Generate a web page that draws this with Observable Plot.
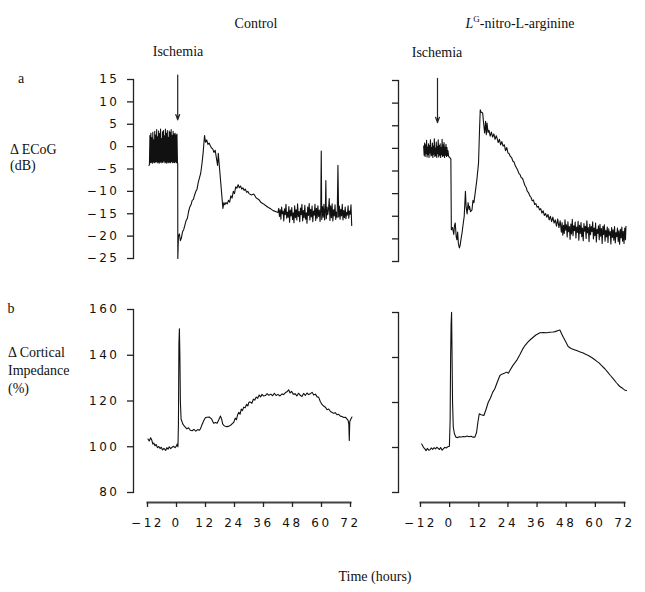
<!DOCTYPE html>
<html><head><meta charset="utf-8">
<script src="https://cdn.jsdelivr.net/npm/d3@7"></script>
<script src="https://cdn.jsdelivr.net/npm/@observablehq/plot@0.6"></script>
<style>
body{margin:0;background:#fff;}
#root{position:relative;width:645px;height:592px;overflow:hidden;background:#fff;}
.lbl{position:absolute;font-family:"Liberation Serif","Times New Roman",serif;font-size:14px;color:#111;white-space:nowrap;line-height:1;}
.c{transform:translate(-50%,-50%);}
.l{transform:translate(0,-50%);}
.p{position:absolute;}
.p svg text{letter-spacing:2.5px;}
</style></head><body><div id="root"></div>
<script>
// ---- tick labels / categories ----
const xTicks = [-12, 0, 12, 24, 36, 48, 60, 72];
const ecogTicks = [15, 10, 5, 0, -5, -10, -15, -20, -25];
const impTicks = [160, 140, 120, 100, 80];
const panelTitles = ["Control", "LG-nitro-L-arginine"];

// ---- ischemia arrows (hours, dB from -> to) ----
const arrowControl = [{t: 0.5, from: 16, to: 6}];
const arrowLNA = [{t: -5, from: 15.5, to: 5.7}];

// ---- series: [hours, value] ----
const ecogControl = [
[-11.4,-4.2],[-11.2,-4.0],[-11.0,2.5],[-10.8,-3.6],[-10.6,3.0],[-10.4,-3.5],[-10.2,2.0],[-10.0,-3.7],[-9.8,3.2],[-9.6,-3.4],[-9.4,1.5],[-9.2,-3.6],[-9.0,3.4],[-8.8,-3.5],[-8.6,2.6],[-8.4,-3.3],[-8.2,3.8],[-8.0,-3.6],[-7.8,2.2],[-7.6,-3.4],[-7.4,3.5],[-7.2,-3.7],[-7.0,2.9],[-6.8,-3.5],[-6.6,3.9],[-6.4,-3.4],[-6.2,1.8],[-6.0,-3.6],[-5.8,3.3],[-5.6,-3.5],[-5.4,3.6],[-5.2,-3.2],[-5.0,2.4],[-4.8,-3.6],[-4.6,3.9],[-4.4,-3.5],[-4.2,3.0],[-4.0,-3.7],[-3.8,3.6],[-3.6,-3.4],[-3.4,2.1],[-3.2,-3.6],[-3.0,3.5],[-2.8,-3.5],[-2.6,3.2],[-2.4,-3.6],[-2.2,3.8],[-2.0,-3.3],[-1.8,2.5],[-1.6,-3.6],[-1.4,3.4],[-1.2,-3.5],[-1.0,2.8],[-0.8,-3.6],[-0.6,3.0],[-0.4,-3.4],[-0.2,2.6],[0.0,-3.6],[0.2,2.8],[0.4,-3.6],
[0.5,-3.7],[0.55,-25],[0.8,-20],[1.2,-19.5],[1.6,-21],[2.0,-20.5],[2.5,-19],[3.0,-18.5],[3.5,-17.5],[4.0,-16.5],[4.5,-16],[5.0,-14.5],[5.5,-13.5],[6.0,-13],[6.5,-12],[7.0,-11.8],[7.5,-10.8],[8.0,-10],[8.5,-9.5],[9.0,-8],[9.5,-7],[10.0,-6],[10.5,-4],[11.0,-1.5],[11.6,2.5],[12.0,1],[12.5,1.5],[13,0.5],[13.5,0.8],[14,0.2],[14.5,-0.3],[15,-0.5],[15.5,-1.3],[16,-0.8],[16.5,-2.5],[17,-4.2],[17.3,-1.5],[17.6,-3.5],
[19.2,-13.8],[19.6,-12.5],[20,-13],[20.5,-12.5],[21,-12.8],[21.5,-12],[22,-12.4],[22.5,-11],[23,-11.5],[23.5,-10],[24,-10.5],[24.5,-9],[25,-9.3],[25.5,-8.5],[26,-9.2],[26.5,-8.8],[27,-9.5],[27.5,-9.2],[28,-9.8],[28.5,-9.5],[29,-10.2],[29.5,-10],[30,-10.5],[31,-10.8],[32,-10.6],[33,-11.5],[34,-11.8],[35,-12.5],[36,-12.8],[37,-13.2],[38,-13.6],[39,-13.9],[40,-14.3],[41,-14.5],[42,-14.7],
[42.3,-13.8],[42.6,-15.6],[42.9,-14.1],[43.2,-16.2],[43.5,-13.5],[43.8,-15],[44.1,-14.4],[44.4,-16.6],[44.7,-13.9],[45,-15.2],[45.3,-12.9],[45.6,-16],[45.9,-14.6],[46.2,-15.8],[46.5,-13.4],[46.8,-16.9],[47.1,-14.2],[47.4,-15.5],[47.7,-13.6],[48,-16.3],[48.3,-14.8],[48.6,-17],[48.9,-13.2],[49.2,-15.9],[49.5,-14.1],[49.8,-16.4],[50.1,-12.8],[50.4,-15.6],[50.7,-14.5],[51,-16.8],[51.3,-13.7],[51.6,-15.2],[51.9,-12.9],[52.2,-16.6],[52.5,-14.3],[52.8,-15.9],[53.1,-13.1],[53.4,-16.2],[53.7,-14.8],[54,-17.1],[54.3,-13.5],[54.6,-15.4],[54.9,-12.7],[55.2,-16.4],[55.5,-14],[55.8,-15.7],[56.1,-13.3],[56.4,-16.8],[56.7,-14.4],[57,-15.3],[57.3,-12.9],[57.6,-16.5],[57.9,-13.8],[58.2,-16],[58.5,-13.2],[58.8,-15.6],[59.1,-14.2],[59.4,-16.7],[59.7,-13.6],[59.9,-1],[60.1,-16.3],[60.4,-13.4],[60.7,-15.8],[61,-12.9],[61.3,-16.4],[61.6,-13.8],[61.8,-7.6],[62,-16.1],[62.3,-13.5],[62.6,-15.2],[62.9,-14],[63.2,-11.6],[63.5,-16.5],[63.8,-13.2],[64.1,-15.9],[64.4,-12.8],[64.7,-16.6],[65,-14.1],[65.3,-15.5],[65.6,-13],[65.9,-16.3],[66.2,-14.6],[66.5,-15.8],[66.8,-4.2],[67.1,-15.7],[67.4,-13.3],[67.7,-16.2],[68,-14],[68.3,-15.5],[68.6,-12.9],[68.9,-16.4],[69.2,-14.3],[69.5,-15.9],[69.8,-13.5],[70.1,-16.1],[70.4,-14.7],[70.7,-15.3],[71,-13.2],[71.3,-16],[71.6,-14.4],[71.9,-15.1],[72.2,-13],[72.5,-17.6]
];

const ecogLNA = [
[-10.7,0.5],[-10.5,-1.5],[-10.3,1.2],[-10.1,-1.8],[-9.9,0.8],[-9.7,-1.2],[-9.5,1.8],[-9.3,-1.9],[-9.1,0.3],[-8.9,-1.4],[-8.7,1.0],[-8.5,-2.0],[-8.3,0.6],[-8.1,-1.0],[-7.9,1.9],[-7.7,-1.7],[-7.5,0.2],[-7.3,-1.5],[-7.1,1.2],[-6.9,-2.0],[-6.7,0.5],[-6.5,-1.3],[-6.3,2.1],[-6.1,-1.8],[-5.9,0.0],[-5.7,-1.6],[-5.5,1.4],[-5.3,-2.0],[-5.1,0.4],[-4.9,-1.2],[-4.7,1.9],[-4.5,-1.9],[-4.3,0.6],[-4.1,-1.5],[-3.9,1.0],[-3.7,-2.0],[-3.5,0.2],[-3.3,-1.4],[-3.1,2.0],[-2.9,-1.8],[-2.7,0.8],[-2.5,-1.6],[-2.3,1.3],[-2.1,-2.0],[-1.9,0.3],[-1.7,-1.5],[-1.5,0.9],[-1.3,-1.8],[-1.1,0.2],[-0.9,-1.6],[-0.7,-0.5],[-0.4,-1.8],[0.0,-2.0],[0.5,-2.3],
[0.7,-18],[1.2,-17.5],[1.7,-19],[2.0,-17],[2.3,-16.5],[2.7,-19.5],[3.0,-20.2],[3.3,-18.5],[3.6,-21],[4.0,-22],[4.3,-21.5],[4.7,-20],[5.1,-18.7],[5.5,-17],[6.0,-15],[6.5,-9.5],[6.8,-13],[7.2,-14.5],[7.6,-12],[8.0,-13.5],[8.2,-12.8],[8.6,-14],[9.2,-13.6],[9.6,-11.5],[10.0,-12],[10.6,-9.5],[11.2,-7],[11.9,-3.2],[12.3,4],[12.6,8.5],[13,8],[13.6,7.8],[14.0,5.5],[14.4,3.4],[14.8,6],[15.1,3],[15.4,5.6],[15.8,3.5],[16.2,4.0],[16.7,2.7],[17.2,3.6],[17.7,2.5],[18.2,3.2],[18.7,2.0],[19.2,2.8],[19.5,2.3],[20,1.3],[20.5,2.0],[21,0.8],[21.5,1.5],[22,0.5],[22.5,0.8],[23,-0.5],[23.5,0.2],[24,-1.0],[24.5,-1.2],[25,-1.8],[25.5,-2.0],[26,-2.8],[26.5,-3.0],[27,-3.8],[27.5,-4.3],[28,-4.8],[28.5,-5.5],[29,-5.8],[29.5,-6.5],[30,-6.6],[30.5,-7.4],[31,-8.2],[31.5,-8.6],[32,-9.5],[32.5,-9.8],[33,-10.5],[33.5,-10.8],[34,-11.6],[34.5,-11.4],[35,-12.4],[35.5,-12.2],[36,-13],[36.5,-12.8],[37,-13.6],[37.5,-13.3],[38,-14.3],[38.5,-13.8],[39,-14.8],[39.5,-14.4],[40,-15.2],[40.5,-14.6],[41,-15.8],[41.5,-15],[42,-16.2],[42.5,-15.2],[43,-16.5],[43.5,-15.8],[44,-17.2],[44.5,-15.6],[45,-17.5],[45.5,-16],
[46,-18.5],[46.3,-16.4],[46.6,-19.2],[46.9,-17],[47.2,-18.8],[47.5,-15.8],[47.8,-18.1],[48.1,-16.9],[48.4,-19.6],[48.7,-16.2],[49,-18.4],[49.3,-17.3],[49.6,-20.1],[49.9,-16.7],[50.2,-18.9],[50.5,-15.7],[50.8,-19.3],[51.1,-17.1],[51.4,-18.2],[51.7,-16.3],[52,-19.8],[52.3,-17.4],[52.6,-18.6],[52.9,-16.1],[53.2,-20.3],[53.5,-17],[53.8,-18.8],[54.1,-16.4],[54.4,-19.5],[54.7,-17.6],[55,-20.4],[55.3,-16.6],[55.6,-18.3],[55.9,-17.2],[56.2,-19.9],[56.5,-16],[56.8,-18.7],[57.1,-17.5],[57.4,-20.6],[57.7,-16.8],[58,-19.1],[58.3,-17.3],[58.6,-18.4],[58.9,-16.2],[59.2,-20],[59.5,-17.6],[59.8,-19.3],[60.1,-16.5],[60.4,-20.7],[60.7,-17.9],[61,-18.8],[61.3,-17.1],[61.6,-20.2],[61.9,-16.8],[62.2,-19.4],[62.5,-17.7],[62.8,-21],[63.1,-17.2],[63.4,-19],[63.7,-16.9],[64,-20.5],[64.3,-18.1],[64.6,-19.6],[64.9,-17.4],[65.2,-20.8],[65.5,-17.8],[65.8,-19.2],[66.1,-18.4],[66.4,-21.1],[66.7,-17.5],[67,-19.7],[67.3,-18],[67.6,-20.3],[67.9,-17.3],[68.2,-20.9],[68.5,-18.6],[68.8,-19.5],[69.1,-17.6],[69.4,-20.6],[69.7,-18.2],[70,-21.2],[70.3,-17.9],[70.6,-19.8],[70.9,-17.4],[71.2,-20.5],[71.5,-18.3],[71.8,-21],[72.1,-17.6],[72.4,-20.2],[72.6,-17.2]
];

const impControl = [
[-11.8,103.4],[-11.3,102.5],[-10.7,103.9],[-10.2,102.8],[-9.8,101.2],[-9.4,101.6],[-8.9,100.4],[-8.4,101],[-7.9,99.6],[-7.3,100.1],[-6.8,99.2],[-6.3,99.8],[-5.8,98.6],[-5.2,99.3],[-4.5,98.4],[-4.0,99.6],[-3.5,98.9],[-3.0,100],[-2.4,99.2],[-1.8,99.8],[-1.2,100.2],[-0.6,99.6],[0.0,100.4],[0.3,101.2],[0.6,100],[0.8,110],[1.0,145],[1.2,151.6],[1.4,140],[1.6,120],[1.9,112],[2.1,111.5],[2.6,110],[3.1,109.2],[3.7,108.5],[4.3,107.8],[5,108.3],[5.7,107.2],[6.5,107],[7.2,107.6],[8,106.8],[8.8,107.5],[9.4,107.2],[9.9,107.8],[10.5,109.5],[11.3,111.5],[12,112.8],[12.7,112.9],[13.5,113],[14.5,112.2],[15,111],[15.4,110.3],[16.1,110.6],[16.8,110.3],[17.5,111.8],[18.2,113.4],[18.7,112],[19.1,110],[19.6,109.3],[20.5,108.8],[21.6,108.9],[22.5,109.5],[23.2,110.2],[23.7,110.7],[24.3,112.5],[24.8,111.8],[25.3,114],[25.8,115.1],[26.3,114.2],[26.8,116.5],[27.3,115.8],[27.8,117.3],[28.4,117],[29,118.6],[29.5,117.8],[30,119.5],[30.6,119.5],[31.2,119],[31.8,120.8],[32.4,120.4],[33,121.7],[33.6,121.2],[34.2,122.6],[34.8,121.8],[35.4,122.9],[36,122.2],[36.8,122.4],[37.5,123.2],[38.2,122.5],[39,123],[39.8,122.3],[40.5,123.4],[41.2,122.4],[42,122.9],[42.8,122.2],[43.7,123.1],[44.3,122.8],[45,123.6],[45.7,124],[46.4,124.9],[47,123.5],[47.6,124.2],[48.3,123],[49.2,123.1],[49.8,122.2],[50.5,123.4],[51.2,122.5],[51.9,122],[52.6,123.3],[53.3,122.4],[54,123.5],[54.7,122.8],[55.4,123.2],[56.1,123.8],[56.8,122.6],[57.5,123],[58.2,121.8],[58.8,121.7],[59.5,119.8],[60.2,118.5],[60.9,117.8],[61.6,117.3],[62.3,116.2],[63,116.5],[63.7,115.4],[64.3,115.1],[65,114.6],[65.7,114.9],[66.4,114],[67.1,114.2],[67.8,113.4],[68.5,113.2],[69.2,112.8],[69.9,112.9],[70.5,112.2],[71,111.5],[71.3,110],[71.5,102.7],[71.7,111],[72.1,112],[72.6,113]
];

const impLNA = [
[-11.5,101.6],[-11,100.6],[-10.6,99.8],[-10.2,99.4],[-9.7,98.6],[-9.2,99.6],[-8.6,98.8],[-8.1,99],[-7.6,99.8],[-7,99.2],[-6.4,99.9],[-5.8,99.4],[-5.3,100.1],[-4.7,99.6],[-4.2,99.1],[-3.7,100],[-3.1,98.8],[-2.6,99.4],[-2,100.1],[-1.4,99.8],[-0.8,100.3],[-0.1,100.6],[0.2,112],[0.4,140],[0.6,155],[0.8,160.1],[1.0,140],[1.2,120],[1.5,109],[2.0,106],[2.6,104.6],[3.3,104.4],[4,104.8],[4.8,104.7],[5.6,104.9],[6.4,104.8],[7.2,105.1],[8,104.8],[8.8,105],[9.6,104.6],[10.4,104.6],[11.1,106.8],[11.6,111],[12.2,115],[13,114.6],[14.1,114.2],[15,117],[15.9,120.1],[16.8,122],[17.7,124.5],[18.6,126.1],[19.6,129],[20.7,132],[21.5,132.6],[22.5,133],[23.5,133.5],[24.2,133],[24.8,134.2],[26,136.4],[27.6,138.7],[29,141.4],[30,143.6],[31,145.3],[32.2,146.8],[33.3,148],[34.4,149],[35.5,150],[37.2,151],[38.5,151.1],[40,151],[41.3,151.2],[42.5,151.3],[43.5,151.5],[44.7,152],[45.4,152.2],[46,150.8],[46.8,149],[47.8,147],[48.8,144.9],[50,144],[51,143.6],[52.3,143.1],[53.5,142.6],[55,142],[56,141.4],[57.1,140.9],[58.5,140],[59.5,139.2],[60.5,138.4],[61.5,137.6],[62.7,136.3],[63.9,135],[65,133.6],[66.2,132],[67.4,130.5],[68.5,129],[69.3,128],[70.1,127.1],[71.2,126.3],[72,125.6],[72.8,125.3]
];

const fmt = d => d < 0 ? "\u2212" + Math.abs(d) : String(d);
const root = document.getElementById("root");

function panel(o) {
  const marks = [
    Plot.frame({anchor: "left", insetBottom: o.yGap || 0, stroke: "#222", strokeWidth: 1.3}),
    Plot.axisY({ticks: o.yTicks, tickSize: 6, tickPadding: 8, tickFormat: o.yLabels ? fmt : () => "", stroke: "#222", strokeWidth: 1.3, fill: "#111"}),
    Plot.line(o.data, {x: d => d[0], y: d => d[1], stroke: "#111", strokeWidth: 1.1, curve: "linear"})
  ];
  if (o.xAxis) {
    marks.push(Plot.frame({anchor: "bottom", insetLeft: o.xGap, stroke: "#444", strokeWidth: 2}));
    marks.push(Plot.axisX({ticks: xTicks, tickSize: 5, tickPadding: 11, tickFormat: fmt, stroke: "#222", strokeWidth: 1.3, fill: "#111"}));
  }
  if (o.arrow) {
    marks.push(Plot.arrow(o.arrow, {x1: "t", x2: "t", y1: "from", y2: "to", stroke: "#222", strokeWidth: 1.2, headLength: 7, headAngle: 40}));
  }
  const svg = Plot.plot({
    width: o.width, height: o.height,
    marginLeft: o.mL, marginTop: o.mT, marginRight: o.width - o.xRange[1], marginBottom: o.mB,
    x: {domain: [-12, 72], range: o.xRange, axis: null},
    y: o.yRange ? {domain: o.yDomain, range: o.yRange, axis: null} : {domain: o.yDomain, axis: null},
    style: {fontFamily: "'DejaVu Sans', Arial, sans-serif", fontSize: "12px", background: "transparent", overflow: "visible", color: "#111"},
    marks
  });
  const d = document.createElement("div");
  d.className = "p";
  d.style.left = o.left + "px";
  d.style.top = o.top + "px";
  d.appendChild(svg);
  root.appendChild(d);
}

// top-left: Control ECoG
panel({left: 90, top: 70, width: 275, height: 200, mL: 43, mT: 9, mB: 12, xRange: [57, 260],
  yDomain: [-25, 15], yTicks: ecogTicks, yLabels: true, data: ecogControl, arrow: arrowControl});
// top-right: LNA ECoG
panel({left: 355, top: 70, width: 285, height: 200, mL: 43, mT: 10, mB: 9, xRange: [65, 269],
  yDomain: [-25, 15], yTicks: ecogTicks, yLabels: false, data: ecogLNA, arrow: arrowLNA});
// bottom-left: Control impedance
panel({left: 90, top: 300, width: 275, height: 240, mL: 43, mT: 9, mB: 38, xRange: [57, 260],
  yDomain: [80, 160], yRange: [192, 9], yGap: 10, yTicks: impTicks, yLabels: true, data: impControl, xAxis: true, xGap: 14});
// bottom-right: LNA impedance
panel({left: 355, top: 300, width: 285, height: 240, mL: 43, mT: 12, mB: 38, xRange: [65, 269],
  yDomain: [80, 160], yRange: [192, 12], yGap: 10, yTicks: impTicks, yLabels: false, data: impLNA, xAxis: true, xGap: 22});

function label(html, x, y, cls) {
  const d = document.createElement("div");
  d.className = "lbl " + (cls || "c");
  d.style.left = x + "px";
  d.style.top = y + "px";
  d.innerHTML = html;
  root.appendChild(d);
}
label(panelTitles[0], 256, 24);
label('<i>L</i><sup style="font-size:9px;vertical-align:6px;line-height:0">G</sup>-nitro-L-arginine', 520, 24);
label("Ischemia", 178, 52);
label("Ischemia", 437, 53);
label("a", 21, 79);
label("\u0394 ECoG", 10, 150, "l");
label("(dB)", 10, 166, "l");
label("b", 11, 309);
label("\u0394 Cortical", 8, 353, "l");
label("Impedance", 8, 371, "l");
label("(%)", 8, 389, "l");
label("Time (hours)", 375, 577);
</script></body></html>
